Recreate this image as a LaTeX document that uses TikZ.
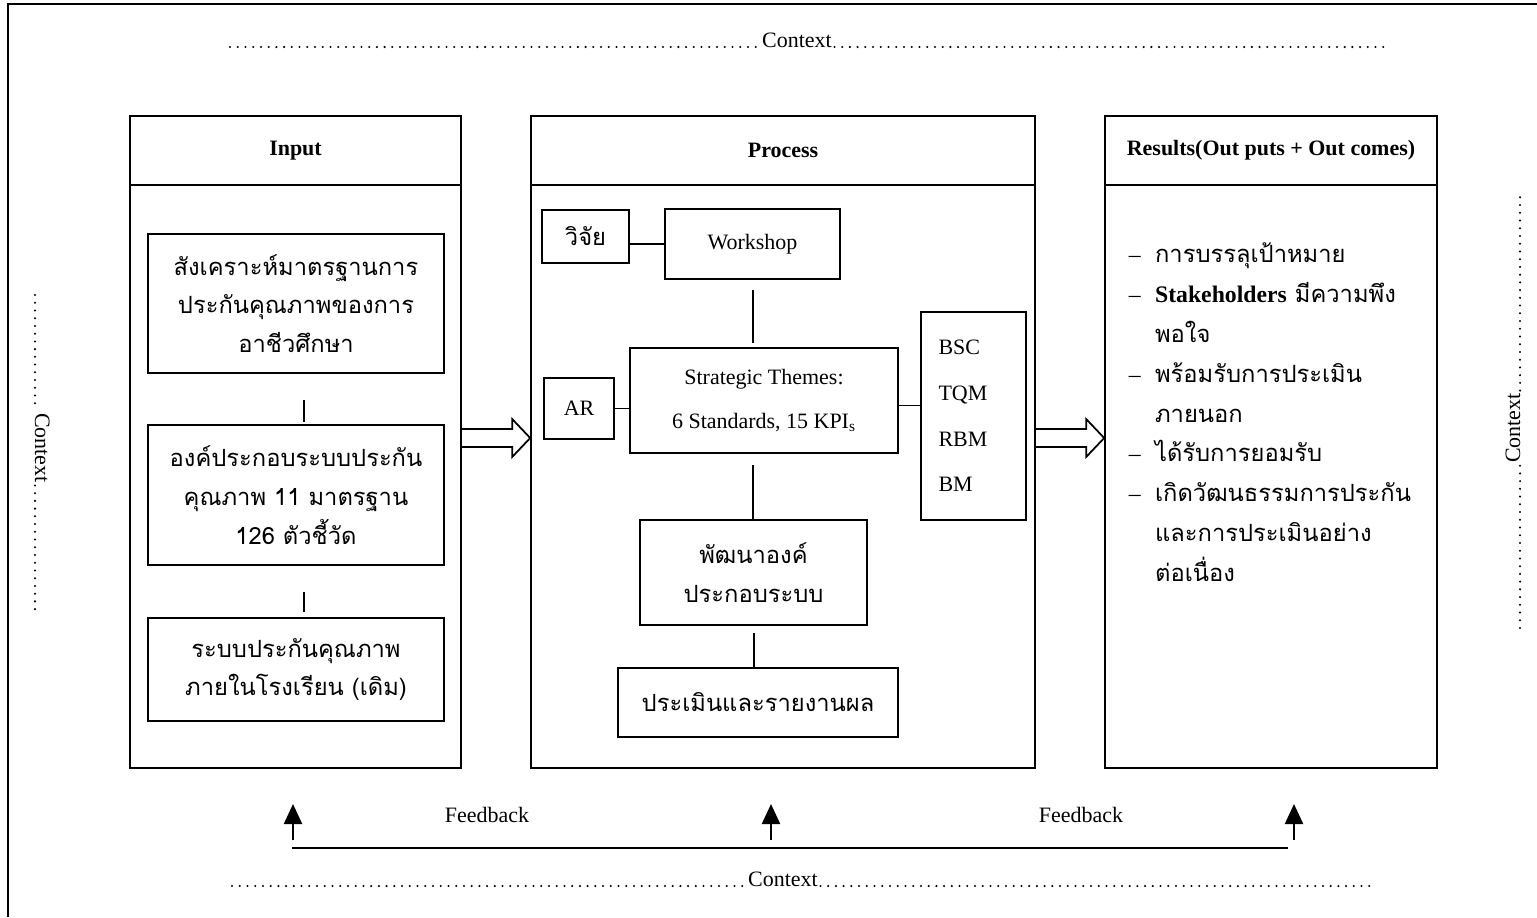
\documentclass[tikz,border=0pt]{standalone}
\usepackage{fontspec}
\setmainfont{Liberation Serif}
\newfontfamily\thai[Script=Thai]{Loma}
\usetikzlibrary{arrows.meta,calc}
\newcommand\basesize{\fontsize{12.5}{15}\selectfont}
\newcommand\thaisize{\fontsize{13.5}{22}\selectfont}
\newcommand\itemdash{\makebox[15pt][l]{\rmfamily –}}
\newcommand\itemskip{\hspace*{15pt}}
\begin{document}
\begin{tikzpicture}[x=0.02cm, y=-0.02cm, line width=1pt, font=\basesize,
  box/.style={draw, align=center, inner sep=2pt},
  hdr/.style={draw, font=\basesize\bfseries, minimum height=1.38cm, anchor=north},
  thaitext/.style={font=\thai\thaisize},
  ctx/.style={inner sep=1pt},
  dots/.style={line width=1.3pt, dash pattern=on 0pt off 4.4pt, line cap=round},
  hollow/.style={line width=1pt, line join=miter},
  fbarrow/.style={line width=1.3pt, -{Triangle[length=0.4cm,width=0.36cm]}}]
\useasboundingbox (0,0) rectangle (1537,917);
% outer frame
\coordinate (fbl) at (8,917);
\coordinate (ftl) at (8,4);
\coordinate (ftr) at (1537,4);
\draw[line width=1.3pt] (fbl) -- (ftl) -- (ftr);
% context, top and bottom
\node[ctx, anchor=base] (ctxT) at (797,47) {Context};
\coordinate (ctxTa) at (230,47);
\coordinate (ctxTb) at (1390,47);
\draw[dots] (ctxTa) -- (ctxT.base west);
\draw[dots] (ctxT.base east) -- (ctxTb);
\node[ctx, anchor=base] (ctxB) at (783,886) {Context};
\coordinate (ctxBa) at (232,886);
\coordinate (ctxBb) at (1375,886);
\draw[dots] (ctxBa) -- (ctxB.base west);
\draw[dots] (ctxB.base east) -- (ctxBb);
% context, left and right
\node[ctx, anchor=base, rotate=-90] (ctxL) at (35,448) {Context};
\coordinate (ctxLa) at (35,295);
\coordinate (ctxLb) at (35,615);
\draw[dots] (ctxLa) -- (ctxL.base west);
\draw[dots] (ctxL.base east) -- (ctxLb);
\node[ctx, anchor=base, rotate=90] (ctxR) at (1520,428) {Context};
\coordinate (ctxRa) at (1520,628);
\coordinate (ctxRb) at (1520,195);
\draw[dots] (ctxRa) -- (ctxR.base west);
\draw[dots] (ctxR.base east) -- (ctxRb);
% main blocks
\node[box, minimum width=6.62cm, minimum height=13.04cm] (inp) at (295.5,442) {};
\node[box, minimum width=10.08cm, minimum height=13.04cm] (proc) at (783,442) {};
\node[box, minimum width=6.64cm, minimum height=13.04cm] (res) at (1271,442) {};
\node[hdr, minimum width=6.62cm] (inpH) at (inp.north) {Input};
\node[hdr, minimum width=10.08cm] (procH) at (proc.north) {Process};
\node[hdr, minimum width=6.64cm] (resH) at (res.north) {Results(Out puts + Out comes)};
% input
\node[box, thaitext, minimum width=5.92cm, minimum height=2.78cm] (syn) at (296,303.5) {สังเคราะห์มาตรฐานการ\\ประกันคุณภาพของการ\\อาชีวศึกษา};
\node[box, thaitext, minimum width=5.92cm, minimum height=2.8cm] (comp) at (296,495) {องค์ประกอบระบบประกัน\\คุณภาพ 11 มาตรฐาน\\126 ตัวชี้วัด};
\node[box, thaitext, minimum width=5.92cm, minimum height=2.06cm] (old) at (296,669.5) {ระบบประกันคุณภาพ\\ภายในโรงเรียน (เดิม)};
\coordinate (s1) at (304,400);
\coordinate (s2) at (304,422);
\coordinate (s3) at (304,592);
\coordinate (s4) at (304,612);
\draw (s1) -- (s2);
\draw (s3) -- (s4);
% process
\node[box, thaitext, minimum width=1.74cm, minimum height=1.06cm] (vij) at (585.5,236.5) {วิจัย};
\node[box, minimum width=3.5cm, minimum height=1.4cm] (work) at (752.5,244) {Workshop};
\draw (vij.east |- work.west) -- (work.west);
\node[box, minimum width=5.36cm, minimum height=2.1cm] (strat) at (764,400.5) {\raisebox{-5pt}{\parbox{5cm}{\centering Strategic Themes:\\[10pt]6 Standards, 15 KPI\textsubscript{s}}}};
\node[box, minimum width=1.4cm, minimum height=1.22cm] (ar) at (579,408.5) {AR};
\draw (ar.east) -- (ar.east -| strat.west);
\node[box, minimum width=2.1cm, minimum height=4.16cm, text width=1.4cm, align=left] (tools) at (973.5,416) {BSC\\[11pt]TQM\\[11pt]RBM\\[11pt]BM};
\draw ([yshift=-0.1cm]strat.east) -- ([yshift=-0.1cm]strat.east -| tools.west);
\coordinate (w1) at (753,290);
\coordinate (w2) at (753,343);
\draw (w1) -- (w2);
\node[box, thaitext, minimum width=4.54cm, minimum height=2.1cm] (dev) at (753.5,572.5) {พัฒนาองค์\\ประกอบระบบ};
\coordinate (d1) at (753,465);
\draw (d1) -- (d1 |- dev.north);
\node[box, thaitext, minimum width=5.6cm, minimum height=1.38cm] (eval) at (758,702.5) {ประเมินและรายงานผล};
\coordinate (e1) at (754,633);
\draw (e1) -- (e1 |- eval.north);
% results
\node[anchor=north west, align=left, font=\thai\fontsize{13.5}{22.7}\selectfont] (outc) at (1122,236) {%
\itemdash การบรรลุเป้าหมาย\\
\itemdash{\rmfamily\bfseries Stakeholders} มีความพึง\\
\itemskip พอใจ\\
\itemdash พร้อมรับการประเมิน\\
\itemskip ภายนอก\\
\itemdash ได้รับการยอมรับ\\
\itemdash เกิดวัฒนธรรมการประกัน\\
\itemskip และการประเมินอย่าง\\
\itemskip ต่อเนื่อง};
% block arrows
\foreach \a/\b in {inp/proc, proc/res} {
  \coordinate (s) at ($(\a.east)+(0,-4)$);
  \coordinate (t) at ($(\b.west)+(0,-4)$);
  \draw[hollow] ($(s)+(0,-9)$) -- ($(t)+(-18,-9)$) -- ($(t)+(-18,-19)$) -- (t)
    -- ($(t)+(-18,19)$) -- ($(t)+(-18,9)$) -- ($(s)+(0,9)$);
}
% feedback
\coordinate (fbA) at (292,848);
\coordinate (fbB) at (1288,848);
\draw[line width=1.3pt] (fbA) -- (fbB);
\foreach \x [count=\i] in {293,771,1294} {
  \coordinate (fa\i) at (\x,840);
  \coordinate (fb\i) at (\x,804);
  \draw[fbarrow] (fa\i) -- (fb\i);
}
\node (fbL) at (487,815) {Feedback};
\node (fbR) at (1081,815) {Feedback};
\end{tikzpicture}
\end{document}
